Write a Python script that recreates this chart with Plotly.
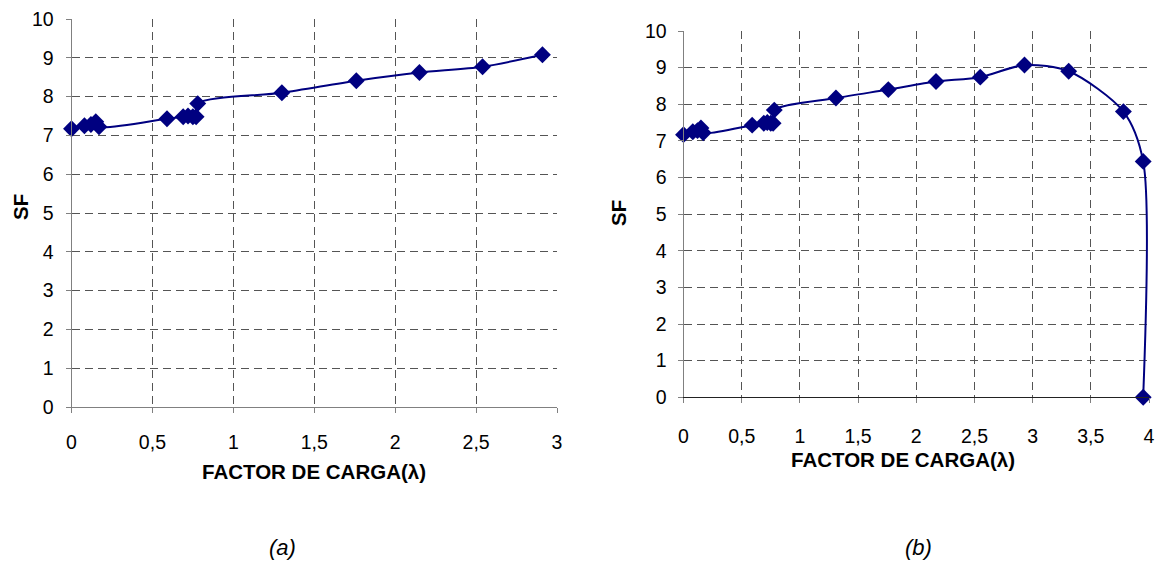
import plotly.graph_objects as go

# Data (a): load factor vs safety factor
lam_a = [0, 0.08, 0.12, 0.15, 0.17, 0.59, 0.69, 0.72, 0.75, 0.77, 0.78, 1.30, 1.76, 2.15, 2.54, 2.91]
sf_a = [7.17, 7.25, 7.28, 7.35, 7.22, 7.43, 7.48, 7.50, 7.48, 7.48, 7.82, 8.10, 8.41, 8.62, 8.77, 9.08]

# Data (b)
lam_b = [0, 0.08, 0.12, 0.15, 0.17, 0.59, 0.69, 0.72, 0.75, 0.77, 0.78, 1.31, 1.76, 2.17, 2.55, 2.93, 3.31, 3.78, 3.95, 3.95]
sf_b = [7.17, 7.25, 7.28, 7.35, 7.22, 7.43, 7.48, 7.50, 7.48, 7.48, 7.84, 8.17, 8.40, 8.62, 8.74, 9.07, 8.90, 7.80, 6.44, 0.0]

x_ticks_a = [0, 0.5, 1, 1.5, 2, 2.5, 3]
x_ticks_b = [0, 0.5, 1, 1.5, 2, 2.5, 3, 3.5, 4]
y_ticks = [0, 1, 2, 3, 4, 5, 6, 7, 8, 9, 10]

W, H = 1157, 563
NAVY = "#000080"
FONT = "Arial, Liberation Sans, sans-serif"

fig = go.Figure()
fig.add_trace(go.Scatter(x=lam_a, y=sf_a, mode="lines+markers", xaxis="x", yaxis="y",
                         line=dict(color=NAVY, width=2, shape="spline", smoothing=0.8),
                         marker=dict(symbol="diamond", size=13, color=NAVY),
                         showlegend=False, cliponaxis=False))
fig.add_trace(go.Scatter(x=lam_b, y=sf_b, mode="lines+markers", xaxis="x2", yaxis="y2",
                         line=dict(color=NAVY, width=2, shape="spline", smoothing=0.8),
                         marker=dict(symbol="diamond", size=13, color=NAVY),
                         showlegend=False, cliponaxis=False))

def px(x):
    return x / W

def py(y):
    return 1 - y / H

grid = dict(showgrid=True, gridcolor="#555555", griddash="8px,5px", gridwidth=1,
            zeroline=False, showline=True, ticks="outside", ticklen=5, automargin=False,
            tickcolor="#808080", tickfont=dict(family=FONT, size=19.5, color="black"))

fig.update_layout(
    width=W, height=H, margin=dict(l=0, r=0, t=0, b=0, autoexpand=False),
    paper_bgcolor="white", plot_bgcolor="white",
    separators=", ",
    font=dict(family=FONT, color="black"),
    xaxis=dict(domain=[px(71.5), px(557)], range=[0, 3], tickvals=x_ticks_a,
               linecolor="#808080", anchor="y", ticklabelstandoff=13, **grid),
    yaxis=dict(domain=[py(407), py(19)], range=[0, 10], tickvals=y_ticks,
               linecolor="#808080", anchor="x", ticklabelstandoff=8, **grid),
    xaxis2=dict(domain=[px(683.5), px(1149)], range=[0, 4], tickvals=x_ticks_b,
                linecolor="#222222", anchor="y2", ticklabelstandoff=16, **grid),
    yaxis2=dict(domain=[py(397.3), py(31)], range=[0, 10], tickvals=y_ticks,
                linecolor="#808080", anchor="x2", ticklabelstandoff=7, **grid),
)

bold = dict(family=FONT, size=20.5, color="black")
ann = [
    dict(text="<b>SF</b>", x=px(20), y=py(207), textangle=-90, font=bold),
    dict(text="<b>SF</b>", x=px(618), y=py(213), textangle=-90, font=bold),
    dict(text="<b>FACTOR DE CARGA(λ)</b>", x=px(314), y=py(471), font=bold),
    dict(text="<b>FACTOR DE CARGA(λ)</b>", x=px(903), y=py(459), font=bold),
    dict(text="<i>(a)</i>", x=px(282), y=py(547), font=dict(family=FONT, size=22, color="black")),
    dict(text="<i>(b)</i>", x=px(918), y=py(547), font=dict(family=FONT, size=22, color="black")),
]
for a in ann:
    a.update(xref="paper", yref="paper", xanchor="center", yanchor="middle", showarrow=False)
    fig.add_annotation(**a)

fig.write_html("out.html")
